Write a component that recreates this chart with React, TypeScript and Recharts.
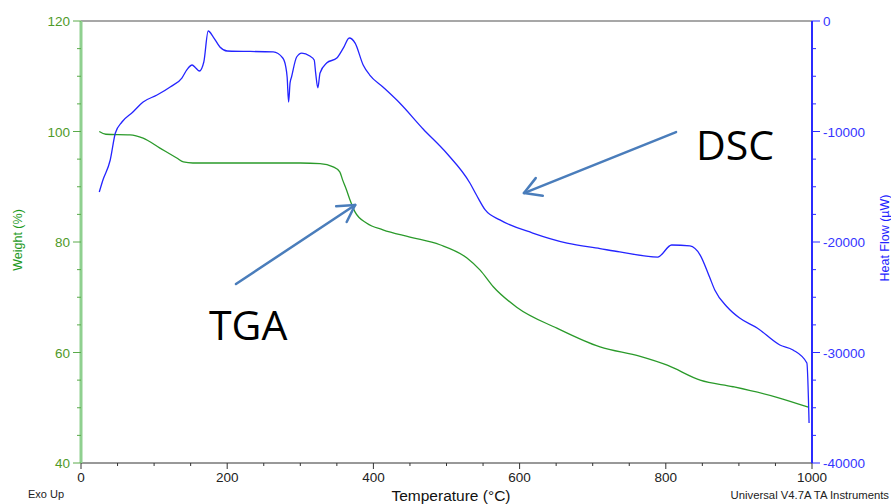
import React from 'react';
import { ComposedChart, Line, XAxis, YAxis, ReferenceLine } from 'recharts';

// TGA curve: temperature (°C) and weight (%)
const tgaTemp = [25, 34, 67, 85, 108, 131, 140, 153, 200, 250, 300, 327, 345, 354, 358, 363, 368, 375, 391, 413, 450, 491, 528, 546, 564, 596, 651, 710, 765, 802, 847, 892, 952, 995];
const tgaWeight = [100.0, 99.5, 99.4, 98.8, 97.0, 95.2, 94.5, 94.3, 94.3, 94.3, 94.3, 94.2, 93.6, 92.7, 91.2, 89.5, 87.6, 85.4, 83.4, 82.2, 80.9, 79.5, 77.1, 74.9, 71.9, 68.2, 64.4, 61.0, 59.3, 57.7, 55.0, 53.8, 51.9, 50.1];

// DSC curve: temperature (°C) and heat flow (µW)
const dscTemp = [25, 30, 40, 47, 56, 71, 85, 104, 122, 138, 145, 152, 157, 162, 168, 174, 181, 190, 200, 263, 276, 280, 282, 284, 286, 288, 295, 302, 313, 319, 321, 324, 327, 336, 350, 359, 367, 375, 386, 395, 413, 436, 468, 500, 532, 541, 553, 573, 618, 665, 710, 737, 789, 808, 833, 847, 860, 867, 884, 901, 925, 956, 974, 993, 996];
const dscFlow = [-15480, -14390, -12580, -10140, -9140, -8240, -7330, -6700, -5970, -5160, -4400, -3980, -4250, -4525, -3710, -905, -1450, -2350, -2715, -2800, -3350, -4100, -5070, -7330, -5600, -5070, -3260, -2900, -3170, -3530, -4700, -6060, -4700, -3800, -3350, -2440, -1540, -2000, -3980, -4890, -5970, -7420, -9770, -11950, -14660, -15750, -17100, -18000, -19190, -20100, -20600, -20900, -21360, -20270, -20360, -21180, -23200, -24340, -25880, -26880, -27780, -29320, -29770, -30950, -36380];

const tempTicks = [0, 50, 100, 150, 200, 250, 300, 350, 400, 450, 500, 550, 600, 650, 700, 750, 800, 850, 900, 950, 1000];
const weightTicks = [40, 45, 50, 55, 60, 65, 70, 75, 80, 85, 90, 95, 100, 105, 110, 115, 120];
const flowTicks = [-40000, -37500, -35000, -32500, -30000, -27500, -25000, -22500, -20000, -17500, -15000, -12500, -10000, -7500, -5000, -2500, 0];

// annotation arrows (start -> tip), in data units
const tgaArrow = [{ x: 212, y: 72.4 }, { x: 375, y: 86.7 }];
const dscArrow = [{ x: 814, y: -10050 }, { x: 606, y: -15570 }];

const tga = tgaTemp.map((t, i) => ({ t, w: tgaWeight[i] }));
const dsc = dscTemp.map((t, i) => ({ t, h: dscFlow[i] }));

const FONT = '"Liberation Sans", Arial, sans-serif';
const GREEN_TEXT = '#4f9a2a';
const BLUE_TEXT = '#3535ff';
const ARROW = '#4a7dbb';

const BottomTick = (props: any) => {
  const { x, y, payload } = props;
  const major = payload.value % 200 === 0;
  return (
    <g>
      <line x1={x} x2={x} y1={y} y2={y + (major ? 6 : 3)} stroke="#333" strokeWidth={1} />
      {major && (
        <text x={x} y={y + 19} textAnchor="middle" fill="#222" fontSize={13.5} fontFamily={FONT}>
          {payload.value}
        </text>
      )}
    </g>
  );
};

const LeftTick = (props: any) => {
  const { x, y, payload } = props;
  const major = payload.value % 20 === 0;
  return (
    <g>
      <line x1={x - (major ? 8 : 4)} x2={x} y1={y} y2={y} stroke="#5aaa4a" strokeWidth={1} />
      {major && (
        <text x={x - 11} y={y + 5} textAnchor="end" fill={GREEN_TEXT} fontSize={13.5} fontFamily={FONT}>
          {payload.value}
        </text>
      )}
    </g>
  );
};

const RightTick = (props: any) => {
  const { x, y, payload } = props;
  const major = payload.value % 10000 === 0;
  return (
    <g>
      <line x1={x} x2={x + (major ? 8 : 4)} y1={y} y2={y} stroke="#2b2bff" strokeWidth={1} />
      {major && (
        <text x={x + 11} y={y + 5} textAnchor="start" fill={BLUE_TEXT} fontSize={13.5} fontFamily={FONT}>
          {payload.value}
        </text>
      )}
    </g>
  );
};

const Arrow = (props: any) => {
  const { x1, y1, x2, y2 } = props;
  const ang = Math.atan2(y1 - y2, x1 - x2);
  const len = 19;
  const spread = Math.PI / 6;
  const b1x = x2 + len * Math.cos(ang + spread);
  const b1y = y2 + len * Math.sin(ang + spread);
  const b2x = x2 + len * Math.cos(ang - spread);
  const b2y = y2 + len * Math.sin(ang - spread);
  return (
    <g stroke={ARROW} strokeWidth={2.5} strokeLinecap="round" fill="none">
      <line x1={x1} y1={y1} x2={x2} y2={y2} />
      <line x1={x2} y1={y2} x2={b1x} y2={b1y} />
      <line x1={x2} y1={y2} x2={b2x} y2={b2y} />
    </g>
  );
};

const App: React.FC = () => {
  return (
    <div style={{ position: 'absolute', left: 0, top: 0, width: 891, height: 504, background: '#fff', fontFamily: FONT }}>
      <ComposedChart width={891} height={504} margin={{ top: 21, right: 0, bottom: 0, left: 0 }}>
        <XAxis
          type="number"
          dataKey="t"
          domain={[0, 1000]}
          ticks={tempTicks}
          interval={0}
          tickSize={0}
          tickMargin={0}
          height={41}
          axisLine={{ stroke: '#333', strokeWidth: 1 }}
          tickLine={false}
          tick={<BottomTick />}
          allowDataOverflow
        />
        <YAxis
          yAxisId="w"
          orientation="left"
          domain={[40, 120]}
          ticks={weightTicks}
          interval={0}
          width={81}
          tickSize={0}
          tickMargin={0}
          axisLine={{ stroke: '#8fd08f', strokeWidth: 3 }}
          tickLine={false}
          tick={<LeftTick />}
          allowDataOverflow
        />
        <YAxis
          yAxisId="h"
          orientation="right"
          domain={[-40000, 0]}
          ticks={flowTicks}
          interval={0}
          width={79}
          tickSize={0}
          tickMargin={0}
          axisLine={{ stroke: '#2b2bff', strokeWidth: 2 }}
          tickLine={false}
          tick={<RightTick />}
          allowDataOverflow
        />
        <ReferenceLine yAxisId="w" y={120} stroke="#8a8a8a" strokeWidth={1.5} />
        <Line
          yAxisId="w"
          data={tga}
          dataKey="w"
          type="monotone"
          stroke="#2a9a2a"
          strokeWidth={1.3}
          dot={false}
          isAnimationActive={false}
        />
        <Line
          yAxisId="h"
          data={dsc}
          dataKey="h"
          type="monotone"
          stroke="#2424ff"
          strokeWidth={1.3}
          dot={false}
          isAnimationActive={false}
        />
        <ReferenceLine yAxisId="w" segment={tgaArrow} shape={<Arrow />} ifOverflow="visible" />
        <ReferenceLine yAxisId="h" segment={dscArrow} shape={<Arrow />} ifOverflow="visible" />
      </ComposedChart>
      <svg width={891} height={504} style={{ position: 'absolute', left: 0, top: 0, pointerEvents: 'none' }}>
        <text x={18} y={240} transform="rotate(-90 18 240)" textAnchor="middle" dominantBaseline="central" fill="#1e9a1e" fontSize={12.5} fontFamily={FONT}>
          Weight (%)
        </text>
        <text x={885} y={238} transform="rotate(-90 885 238)" textAnchor="middle" dominantBaseline="central" fill="#2424ff" fontSize={12.5} fontFamily={FONT}>
          Heat Flow (µW)
        </text>
        <text x={451} y={501} textAnchor="middle" fill="#111" fontSize={15.5} fontFamily={FONT}>
          Temperature (°C)
        </text>
        <text x={28} y={498} fill="#222" fontSize={11} fontFamily={FONT}>
          Exo Up
        </text>
        <text x={889} y={499} textAnchor="end" fill="#222" fontSize={11.3} fontFamily={FONT}>
          Universal V4.7A TA Instruments
        </text>
        <text x={209} y={340} fill="#000" fontSize={41} fontFamily='"Open Sans", sans-serif'>
          TGA
        </text>
        <text x={696} y={160} fill="#000" fontSize={41} fontFamily='"Open Sans", sans-serif'>
          DSC
        </text>
      </svg>
    </div>
  );
};

export default App;
